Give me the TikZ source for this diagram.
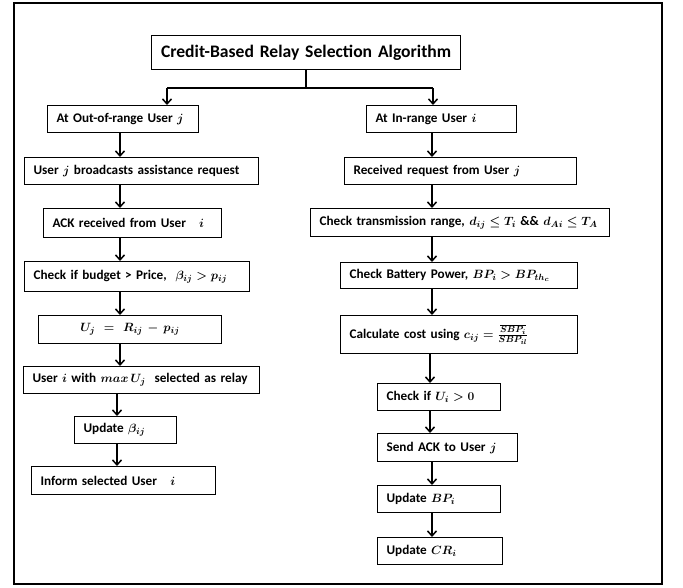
\documentclass[tikz,border=0pt]{standalone}
\usepackage{amsmath}
\usepackage{bm}
\usepackage{fontspec}
\setmainfont{Carlito}
\usetikzlibrary{arrows.meta}
\tikzset{
  box/.style={draw, line width=1.1pt, anchor=north west, inner xsep=9pt, inner ysep=0pt,
    align=left, font=\fontsize{13.2}{15}\selectfont\bfseries\boldmath},
  cbox/.style={box, align=center},
  bx/.style n args={3}{minimum width=#1pt, text width=#2pt, minimum height=#3pt},
  conn/.style={line width=1.5pt},
  arr/.style={conn, -{Straight Barb[length=5pt,width=9pt,line width=1.5pt]}},
}
\begin{document}
\begin{tikzpicture}[x=1pt,y=-1pt]
\useasboundingbox (0,0) rectangle (683,587);
\draw[line width=2.8pt] (14,3) rectangle (662,584);

\node[cbox, bx={309}{291}{34}, font=\fontsize{17.6}{20}\selectfont\bfseries] (T) at (151,35) {Credit-Based Relay Selection Algorithm};

% left column
\node[box, bx={151}{133}{27}] (L1) at (47,105) {At Out-of-range User $j$};
\node[box, bx={234}{216}{27}] (L2) at (24,157) {User $j$ broadcasts assistance request};
\node[box, bx={178}{160}{29}] (L3) at (43,208) {ACK received from User~~~$i$};
\node[box, bx={225}{207}{30}] (L4) at (24,261) {Check if budget > Price,~ $\beta_{ij} > p_{ij}$};
\node[cbox, bx={183}{165}{28}] (L5) at (38,315) {$U_j = R_{ij} - p_{ij}$};
\node[box, bx={236}{218}{27}] (L6) at (23,366) {User $i$ with $max\,U_j$~ selected as relay};
\node[box, bx={102}{84}{27}] (L7) at (74,416) {Update $\beta_{ij}$};
\node[box, bx={184}{166}{28}] (L8) at (31,466) {Inform selected User~~~$i$};

% right column
\node[box, bx={150}{132}{27}] (R1) at (366,105) {At In-range User $i$};
\node[box, bx={232}{214}{27}] (R2) at (344,157) {Received request from User $j$};
\node[box, bx={299}{281}{28}] (R3) at (310,208) {Check transmission range, $d_{ij} \le T_i$ \&\& $d_{Ai} \le T_A$};
\node[box, bx={237}{219}{26}] (R4) at (340,262) {Check Battery Power, $BP_i > BP_{th_c}$};
\node[box, bx={237}{219}{38}] (R5) at (340,315) {Calculate cost using $c_{ij} = \genfrac{}{}{0.6pt}{1}{\overline{SBP_i}}{SBP_{il}}$};
\node[box, bx={123}{105}{27}] (R6) at (377,383) {Check if $U_i > 0$};
\node[box, bx={140}{122}{28}] (R7) at (377,433) {Send ACK to User $j$};
\node[box, bx={123}{105}{27}] (R8) at (377,485) {Update $BP_i$};
\node[box, bx={125}{107}{27}] (R9) at (377,537) {Update $CR_i$};

% split
\coordinate (sp) at (306,88);
\coordinate (sl) at (167,88);
\coordinate (sr) at (433,88);
\draw[conn] (T.south -| sp) -- (sp);
\draw[conn] (sl) -- (sr);
\draw[arr] (sl) -- (L1.north -| sl);
\draw[arr] (sr) -- (R1.north -| sr);

% left arrows
\coordinate (lx) at (120,0);
\coordinate (lx2) at (117,0);
\draw[arr] (L1.south -| lx) -- (L2.north -| lx);
\draw[arr] (L2.south -| lx) -- (L3.north -| lx);
\draw[arr] (L3.south -| lx) -- (L4.north -| lx);
\draw[arr] (L4.south -| lx) -- (L5.north -| lx);
\draw[arr] (L5.south -| lx) -- (L6.north -| lx);
\draw[arr] (L6.south -| lx2) -- (L7.north -| lx2);
\draw[arr] (L7.south -| lx2) -- (L8.north -| lx2);

% right arrows
\coordinate (rx) at (432,0);
\coordinate (rx2) at (430,0);
\draw[arr] (R1.south -| rx) -- (R2.north -| rx);
\draw[arr] (R2.south -| rx) -- (R3.north -| rx);
\draw[arr] (R3.south -| rx) -- (R4.north -| rx);
\draw[arr] (R4.south -| rx) -- (R5.north -| rx);
\draw[arr] (R5.south -| rx2) -- (R6.north -| rx2);
\draw[arr] (R6.south -| rx2) -- (R7.north -| rx2);
\draw[arr] (R7.south -| rx) -- (R8.north -| rx);
\draw[arr] (R8.south -| rx) -- (R9.north -| rx);
\end{tikzpicture}
\end{document}
